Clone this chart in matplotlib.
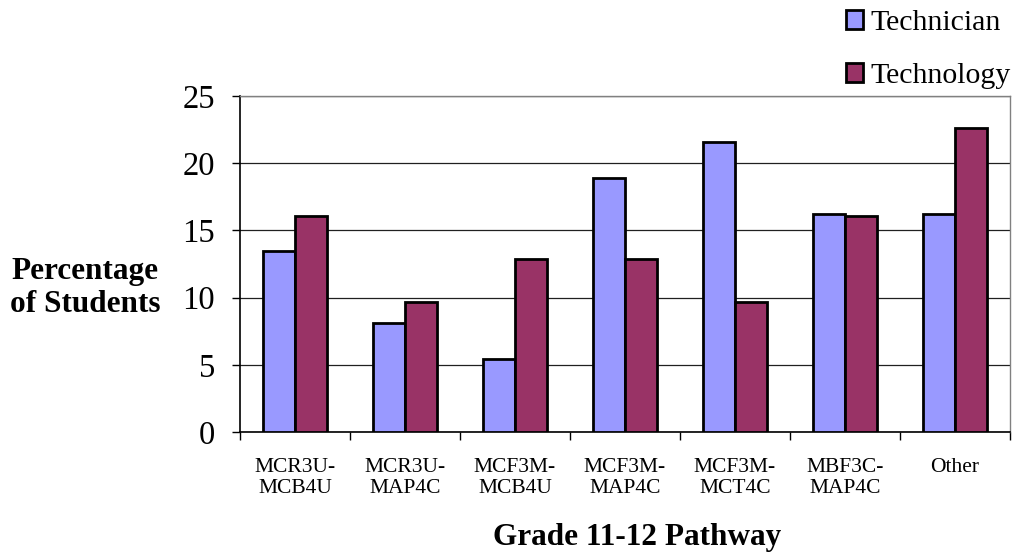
import numpy as np
import matplotlib
matplotlib.use("Agg")
import matplotlib.pyplot as plt
from matplotlib.patches import Patch

plt.rcParams['font.family'] = ['Liberation Serif', 'DejaVu Serif']

# data
pathways = ["MCR3U-\nMCB4U", "MCR3U-\nMAP4C", "MCF3M-\nMCB4U", "MCF3M-\nMAP4C",
            "MCF3M-\nMCT4C", "MBF3C-\nMAP4C", "Other"]
technician = [13.5, 8.1, 5.4, 18.9, 21.6, 16.2, 16.2]
technology = [16.1, 9.7, 12.9, 12.9, 9.7, 16.1, 22.6]

fig = plt.figure(figsize=(10.16, 5.55), dpi=100)
ax = fig.add_axes([240/1016, 1-432/555, 770/1016, 336/555])

x = np.arange(len(pathways))
w = 0.29
ax.bar(x - w/2, technician, w, color='#9999FF', edgecolor='black', linewidth=2,
       label='Technician', zorder=3)
ax.bar(x + w/2, technology, w, color='#993366', edgecolor='black', linewidth=2,
       label='Technology', zorder=3)

ax.set_xlim(-0.5, len(pathways) - 0.5)
ax.set_ylim(0, 25)
ax.set_yticks([0, 5, 10, 15, 20, 25])
ax.yaxis.grid(True, color='#202020', linewidth=0.9, zorder=0)
ax.tick_params(axis='y', labelsize=23.5, length=6, width=1, pad=12, direction='out')

# category boundary ticks, labels at centres
ax.set_xticks(np.arange(len(pathways) + 1) - 0.5)
ax.set_xticklabels([])
ax.set_xticks(x, minor=True)
ax.set_xticklabels(pathways, minor=True, fontsize=15.5, linespacing=1.15)
ax.tick_params(axis='x', which='major', length=6, width=1, direction='out')
ax.tick_params(axis='x', which='minor', length=0, pad=19)

for s in ['left', 'bottom']:
    ax.spines[s].set_color('black')
    ax.spines[s].set_linewidth(1.2)
for s in ['top', 'right']:
    ax.spines[s].set_color('#808080')
    ax.spines[s].set_linewidth(1)

fig.text(85/1016, 1-288/555, "Percentage\nof Students", fontsize=22.5, fontweight='bold',
         ha='center', va='center', linespacing=1.2)
fig.text(637/1016, 1-538/555, "Grade 11-12 Pathway", fontsize=22.5, fontweight='bold',
         ha='center', va='center')

handles = [Patch(facecolor='#9999FF', edgecolor='black', linewidth=2, label='Technician'),
           Patch(facecolor='#993366', edgecolor='black', linewidth=2, label='Technology')]
fig.legend(handles=handles, loc='upper right', bbox_to_anchor=(1.013, 1.015), frameon=False,
           fontsize=21.5, handlelength=0.6, handleheight=0.6, handletextpad=0.25,
           labelspacing=0.92, borderaxespad=0.2)

fig.savefig("out.png", dpi=100)
